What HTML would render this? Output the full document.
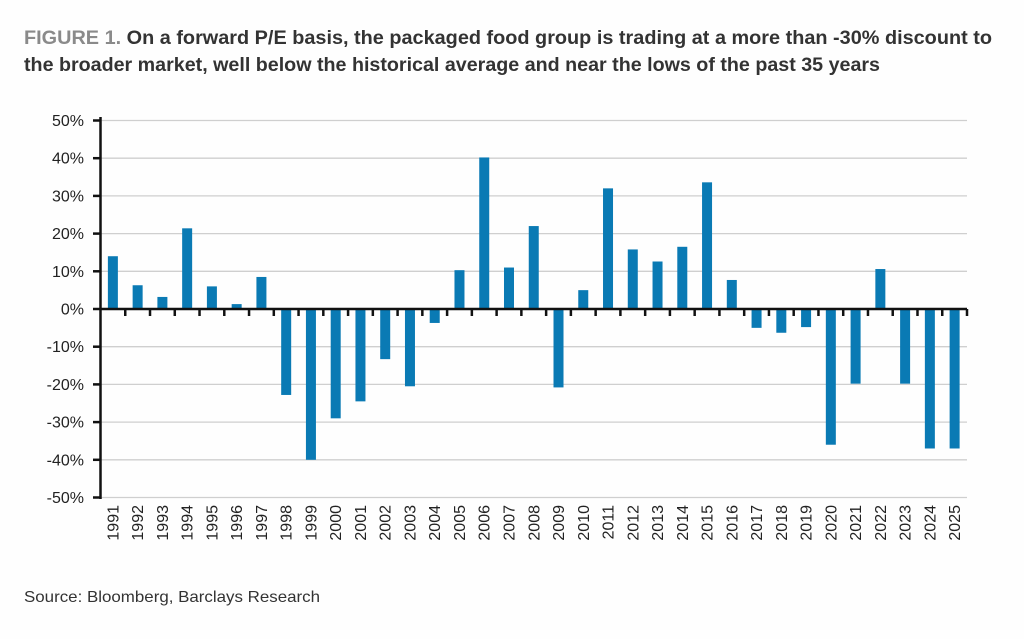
<!DOCTYPE html>
<html><head><meta charset="utf-8"><style>
body{margin:0;background:#fefefe;font-family:"Liberation Sans",sans-serif;}
</style></head><body>
<svg width="1024" height="634" xmlns="http://www.w3.org/2000/svg" font-family="Liberation Sans, sans-serif">
<rect width="1024" height="634" fill="#fefefe"/>
<text x="24" y="44" font-size="19.5" font-weight="bold" fill="#333" textLength="968" lengthAdjust="spacingAndGlyphs"><tspan fill="#8a8a8a">FIGURE 1.</tspan> On a forward P/E basis, the packaged food group is trading at a more than -30% discount to</text>
<text x="24" y="71" font-size="19.5" font-weight="bold" fill="#333" textLength="856" lengthAdjust="spacingAndGlyphs">the broader market, well below the historical average and near the lows of the past 35 years</text>
<text x="24" y="602" font-size="16" fill="#333" textLength="296" lengthAdjust="spacingAndGlyphs">Source: Bloomberg, Barclays Research</text>
<g id="g"></g>
</svg>
<script>
const g=document.getElementById('g');const ns='http://www.w3.org/2000/svg';
function el(t,a,txt){const e=document.createElementNS(ns,t);for(const k in a)e.setAttribute(k,a[k]);if(txt!==undefined)e.textContent=txt;g.appendChild(e);return e;}
const z=309,s=3.77,L=100.5,R=967,step=(R-L)/35;
for(let v=-50;v<=50;v+=10){const y=z-v*s;
 if(v!==0)el('line',{x1:L,x2:R,y1:y,y2:y,stroke:'#cfcfcf','stroke-width':1.3});
 el('line',{x1:93,x2:L,y1:y,y2:y,stroke:'#111','stroke-width':2.5});
 el('text',{x:84,y:y+5.5,'font-size':16,'text-anchor':'end',fill:'#222'},v+'%');}
const d=[14,6.3,3.2,21.4,6,1.3,8.5,-22.8,-40,-29,-24.5,-13.3,-20.5,-3.7,10.3,40.2,11,22,-20.8,5,32,15.8,12.6,16.5,33.6,7.7,-5,-6.3,-4.8,-36,-19.8,10.6,-19.8,-37,-37];
d.forEach((v,i)=>{const c=L+(i+0.5)*step;const y=v>0?z-v*s:z;
 el('rect',{x:c-5,y:y,width:10,height:Math.abs(v)*s,fill:'#0a7ab4'});
 const tx=L+(i+1)*step;el('line',{x1:tx,x2:tx,y1:z,y2:z+7,stroke:'#111','stroke-width':2.5});
 el('text',{transform:`translate(${c+5.5},505) rotate(-90)`,'font-size':16,'text-anchor':'end',fill:'#222'},1991+i);});
el('line',{x1:L,x2:R,y1:z,y2:z,stroke:'#111','stroke-width':2.5});
el('line',{x1:L,x2:L,y1:117,y2:499,stroke:'#111','stroke-width':2.5});
</script>
</body></html>
